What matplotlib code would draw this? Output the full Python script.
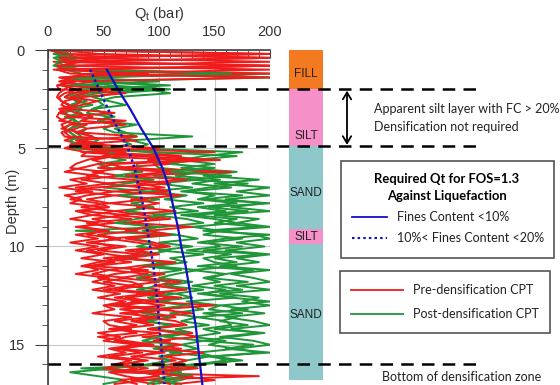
import numpy as np
import matplotlib
matplotlib.use("Agg")
import matplotlib.pyplot as plt
import matplotlib.transforms as mtransforms
from matplotlib.patches import Rectangle, FancyArrowPatch
from matplotlib.lines import Line2D

plt.rcParams['font.family'] = ['Liberation Sans', 'DejaVu Sans']

# CPT cone resistance Qt (bar), sampled every 0.2 m from 0 to 17 m
depth = np.round(np.arange(86) * 0.2, 1)

pre_cpt_1 = [3, 200, 20, 200, 8, 15, 200, 25, 10, 35,
             28, 15, 10, 12, 18, 22, 10, 8, 14, 25,
             20, 12, 15, 35, 20, 45, 150, 60, 40, 55,
             70, 40, 65, 30, 55, 25, 60, 35, 20, 45,
             55, 30, 70, 40, 60, 25, 50, 35, 65, 40,
             60, 35, 55, 80, 45, 30, 55, 40, 70, 50,
             75, 50, 90, 60, 85, 55, 95, 65, 100, 75,
             95, 60, 80, 45, 70, 95, 60, 85, 55, 90,
             65, 90, 60, 190, 75, 95]
pre_cpt_2 = [10, 45, 200, 5, 200, 30, 150, 12, 40, 20,
             15, 10, 8, 12, 20, 15, 10, 25, 20, 12,
             15, 20, 25, 15, 30, 55, 40, 120, 90, 110,
             60, 165, 70, 95, 50, 85, 110, 60, 90, 55,
             95, 60, 85, 110, 65, 95, 70, 100, 55, 80,
             105, 70, 95, 60, 110, 80, 55, 90, 65, 100,
             70, 100, 80, 120, 75, 105, 65, 95, 115, 80,
             120, 90, 130, 85, 110, 75, 120, 95, 80, 115,
             90, 120, 75, 130, 95, 110]
pre_cpt_3 = [0, 15, 60, 10, 200, 8, 20, 200, 15, 10,
             60, 20, 15, 30, 25, 10, 15, 20, 10, 35,
             25, 15, 20, 80, 25, 15, 35, 30, 130, 45,
             30, 15, 45, 20, 35, 10, 40, 15, 30, 20,
             50, 25, 40, 20, 45, 30, 55, 25, 45, 20,
             45, 25, 50, 30, 60, 35, 45, 25, 55, 40,
             60, 40, 65, 45, 70, 50, 60, 40, 75, 50,
             55, 75, 45, 65, 50, 80, 55, 70, 45, 75,
             60, 80, 55, 70, 90, 60]
pre_cpt_4 = [5, 200, 10, 25, 200, 5, 90, 10, 25, 8,
             10, 70, 30, 15, 12, 20, 60, 18, 70, 20,
             12, 30, 80, 25, 40, 100, 30, 80, 155, 60,
             45, 110, 70, 125, 80, 105, 60, 120, 75, 100,
             80, 115, 60, 100, 75, 130, 90, 110, 70, 95,
             110, 80, 100, 70, 115, 90, 75, 105, 85, 120,
             95, 125, 85, 110, 90, 150, 100, 130, 90, 115,
             125, 90, 115, 135, 95, 120, 100, 140, 105, 125,
             110, 135, 95, 120, 150, 115]
pre_cpt_5 = [8, 12, 200, 30, 10, 200, 40, 15, 20, 12,
             25, 35, 20, 45, 30, 15, 25, 40, 30, 70,
             35, 25, 40, 30, 50, 30, 70, 50, 35, 25,
             20, 50, 35, 75, 110, 40, 25, 60, 35, 55,
             30, 60, 40, 75, 35, 55, 80, 45, 65, 35,
             70, 45, 85, 50, 75, 40, 90, 60, 45, 75,
             85, 60, 105, 70, 95, 65, 110, 75, 90, 60,
             80, 55, 100, 70, 60, 90, 65, 105, 75, 85,
             70, 50, 85, 100, 65, 80]

post_cpt_1 = [10, 20, 5, 15, 25, 8, 130, 200, 30, 100,
              90, 110, 60, 45, 50, 40, 35, 55, 45, 60,
              50, 60, 130, 75, 90, 80, 175, 140, 120, 150,
              120, 170, 140, 190, 150, 200, 170, 200, 160, 195,
              165, 200, 150, 190, 170, 200, 155, 185, 200, 170,
              195, 160, 200, 170, 190, 155, 200, 165, 185, 200,
              170, 200, 155, 190, 175, 200, 165, 195, 160, 185,
              200, 165, 190, 155, 185, 200, 170, 190, 150, 175,
              130, 100, 120, 110, 90, 115]
post_cpt_2 = [20, 8, 30, 10, 5, 20, 200, 15, 60, 35,
              80, 45, 25, 35, 20, 30, 25, 40, 30, 25,
              35, 30, 40, 45, 35, 60, 50, 90, 100, 80,
              80, 120, 95, 135, 100, 130, 90, 125, 105, 140,
              110, 135, 95, 125, 140, 105, 25, 115, 135, 100,
              130, 100, 140, 110, 125, 95, 135, 115, 100, 130,
              105, 140, 115, 130, 95, 125, 140, 110, 135, 120,
              145, 115, 130, 105, 140, 120, 135, 110, 145, 125,
              115, 30, 95, 130, 105, 120]
post_cpt_3 = [5, 15, 10, 25, 12, 20, 60, 30, 100, 15,
              105, 30, 20, 25, 40, 20, 30, 15, 25, 30,
              20, 25, 30, 20, 25, 20, 100, 170, 130, 110,
              150, 110, 165, 130, 180, 145, 120, 175, 140, 200,
              145, 180, 130, 170, 150, 190, 140, 200, 160, 135,
              175, 140, 195, 150, 170, 135, 185, 160, 145, 180,
              150, 175, 135, 165, 200, 155, 180, 140, 170, 155,
              180, 150, 195, 165, 140, 185, 160, 200, 145, 170,
              140, 125, 110, 130, 100, 90]
post_cpt_4 = [15, 5, 20, 8, 15, 30, 165, 20, 45, 110,
              30, 25, 15, 30, 20, 25, 15, 20, 25, 20,
              15, 20, 25, 35, 30, 25, 60, 50, 70, 45,
              55, 85, 60, 95, 70, 50, 90, 65, 100, 75,
              95, 70, 105, 80, 60, 100, 85, 115, 75, 95,
              80, 110, 90, 70, 105, 85, 120, 95, 80, 110,
              100, 80, 115, 90, 105, 125, 95, 85, 110, 90,
              110, 90, 125, 100, 85, 115, 95, 120, 100, 110,
              90, 60, 20, 45, 70, 50]
post_cpt_5 = [12, 18, 25, 10, 8, 15, 30, 25, 40, 55,
              110, 60, 40, 55, 70, 40, 50, 60, 45, 80,
              60, 70, 80, 65, 75, 50, 90, 110, 140, 95,
              100, 140, 115, 155, 130, 165, 125, 150, 135, 170,
              135, 160, 120, 150, 170, 130, 155, 140, 175, 145,
              155, 125, 165, 140, 150, 170, 130, 160, 140, 155,
              130, 160, 140, 170, 125, 155, 145, 175, 135, 160,
              165, 140, 155, 130, 160, 145, 170, 135, 150, 160,
              135, 120, 100, 130, 120, 95]

# Required Qt for FOS = 1.3
req_depth = [1.0, 2, 3, 4, 5, 6, 7, 8, 9, 10, 11, 12, 13, 14, 15, 16, 17]
req_fc_lt10 = [53, 63, 74, 84, 95, 103, 109, 113, 117, 120, 124, 127, 130, 133, 135, 137, 139]
req_fc_10_20 = [38, 46, 54, 63, 72, 78, 82, 86, 89, 92, 95, 97, 99, 100, 102, 103, 105]

# Soil profile
layer_names = ["FILL", "SILT", "SAND", "SILT", "SAND"]
layer_top = [-0.15, 2.0, 4.9, 9.1, 9.85]
layer_bottom = [2.0, 4.9, 9.1, 9.85, 16.8]
layer_label_depth = [1.2, 4.4, 7.3, 9.5, 13.5]
layer_colors = {"FILL": "#F47A22", "SILT": "#F590C8", "SAND": "#8FC8CA"}

# Boundaries of the densification zone
zone_lines = [2.0, 4.9, 16.0]

RED = "#F01C1C"
GREEN = "#1F9638"
BLUE = "#1010C8"
W, H = 560, 385

fig = plt.figure(figsize=(W / 100, H / 100), dpi=100)
ax = fig.add_axes([48 / W, 0.0, 222 / W, 1 - 50 / H])

for tr in [post_cpt_1, post_cpt_2, post_cpt_5]:
    ax.plot(tr, depth, color=GREEN, lw=1.4)
for tr in [pre_cpt_1, pre_cpt_2]:
    ax.plot(tr, depth, color=RED, lw=1.4)
for tr in [post_cpt_3, post_cpt_4]:
    ax.plot(tr, depth, color=GREEN, lw=1.4)
for tr in [pre_cpt_3, pre_cpt_4, pre_cpt_5]:
    ax.plot(tr, depth, color=RED, lw=1.4)

ax.plot(req_fc_lt10, req_depth, color=BLUE, lw=1.6)
ax.plot(req_fc_10_20, req_depth, color=BLUE, lw=1.8, linestyle=(0, (1, 1.2)))

ax.set_xlim(0, 200)
ax.set_ylim(17.05, 0)
ax.xaxis.tick_top()
ax.xaxis.set_label_position('top')
ax.set_xticks([0, 50, 100, 150, 200])
ax.set_xticks(np.arange(0, 201, 10), minor=True)
ax.set_yticks([0, 5, 10, 15])
ax.set_yticks(np.arange(0, 17, 1), minor=True)
ax.tick_params(axis='x', which='major', direction='in', length=6, labelsize=10.5, pad=8,
               colors='#404040', labelcolor='#333333')
ax.tick_params(axis='x', which='minor', direction='in', length=6, colors='#404040')
ax.tick_params(axis='y', which='major', direction='out', length=9.5, labelsize=10.5, pad=7,
               colors='#404040', labelcolor='#333333')
ax.tick_params(axis='y', which='minor', direction='out', length=4.5, colors='#404040')
ax.set_xlabel("Q$_\\mathregular{t}$ (bar)", fontsize=10.5, labelpad=5, color='#333333')
ax.set_ylabel("Depth (m)", fontsize=10.5, color='#333333')
ax.yaxis.set_label_coords(-0.126, 0.549)
ax.grid(True, which='major', color='#C8C8C8', lw=0.8)
ax.set_axisbelow(True)
for s in ['right', 'bottom']:
    ax.spines[s].set_visible(False)
for s in ['left', 'top']:
    ax.spines[s].set_color('#404040')
    ax.spines[s].set_linewidth(1.2)

# soil column sharing the depth axis
col = fig.add_axes([289 / W, 0.0, 34 / W, 1 - 50 / H], sharey=ax)
col.axis('off')
for name, top, bot, yl in zip(layer_names, layer_top, layer_bottom, layer_label_depth):
    col.bar(0, bot - top, bottom=top, width=1.0, color=layer_colors[name], edgecolor='none')
    col.text(0, yl, name, ha='center', va='center', fontsize=8.5, color='#222222')
col.set_xlim(-0.5, 0.5)

# dashed zone boundaries spanning plot and annotation area
trans = mtransforms.blended_transform_factory(fig.transFigure, ax.transData)
for d in zone_lines:
    fig.add_artist(Line2D([48 / W, 480 / W], [d, d], transform=trans, color='black',
                          lw=1.8, linestyle=(0, (5, 3.3)), zorder=5))

note_font = ['Lato', 'DejaVu Sans']
fig.add_artist(FancyArrowPatch(
    (347 / W, zone_lines[0]), (347 / W, zone_lines[1]), transform=trans,
    arrowstyle='<->,head_length=5,head_width=3', color='black', lw=1.3,
    shrinkA=1, shrinkB=1))
fig.text(374 / W, 1 - 109 / H, "Apparent silt layer with FC > 20%", fontsize=9,
         va='center', family=note_font, color='#222222')
fig.text(374 / W, 1 - 127 / H, "Densification not required", fontsize=9,
         va='center', family=note_font, color='#222222')
fig.text(382 / W, 1 - 377 / H, "Bottom of densification zone", fontsize=9,
         va='center', family=note_font, color='#222222')


def box(x0, y0, x1, y1):
    fig.add_artist(Rectangle((x0 / W, 1 - y1 / H), (x1 - x0) / W, (y1 - y0) / H,
                             transform=fig.transFigure, facecolor='white',
                             edgecolor='#555555', lw=1.2))


# legend: required Qt curves
box(341, 161, 554, 258)
fig.text(447 / W, 1 - 179 / H, "Required Qt for FOS=1.3", fontsize=9.4, weight='bold',
         ha='center', va='center', family=note_font)
fig.text(447 / W, 1 - 196 / H, "Against Liquefaction", fontsize=9.4, weight='bold',
         ha='center', va='center', family=note_font)
fig.add_artist(Line2D([352 / W, 387 / W], [1 - 217 / H] * 2, color=BLUE, lw=1.3))
fig.add_artist(Line2D([352 / W, 387 / W], [1 - 238 / H] * 2, color=BLUE, lw=1.5,
                      linestyle=(0, (1.2, 1.5))))
fig.text(397 / W, 1 - 217 / H, "Fines Content <10%", fontsize=9, va='center',
         family=note_font, color='#222222')
fig.text(397 / W, 1 - 238 / H, "10%< Fines Content <20%", fontsize=9, va='center',
         family=note_font, color='#222222')

# legend: CPT traces
box(340, 271, 550, 333)
fig.add_artist(Line2D([351 / W, 403 / W], [1 - 290 / H] * 2, color=RED, lw=1.3))
fig.add_artist(Line2D([351 / W, 403 / W], [1 - 314 / H] * 2, color=GREEN, lw=1.3))
fig.text(413 / W, 1 - 290 / H, "Pre-densification CPT", fontsize=9, va='center',
         family=note_font, color='#222222')
fig.text(413 / W, 1 - 314 / H, "Post-densification CPT", fontsize=9, va='center',
         family=note_font, color='#222222')

fig.savefig("out.png", dpi=100)
